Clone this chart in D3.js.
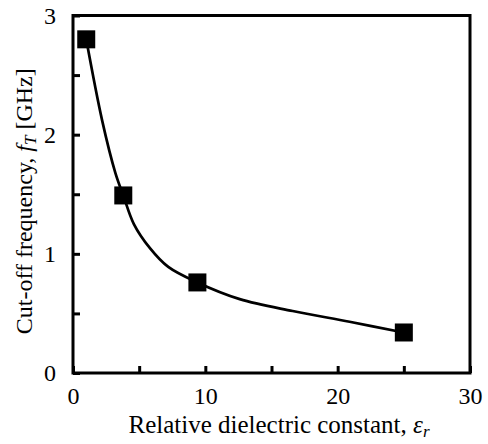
<!DOCTYPE html>
<html>
<head>
<meta charset="utf-8">
<script src="https://cdn.jsdelivr.net/npm/d3@7"></script>
<style>
  body { margin: 0; background: #fff; }
</style>
</head>
<body>
<script>
// measured points
var epsR = [1.0, 3.8, 9.4, 25];
var fT = [2.80, 1.49, 0.76, 0.34];

// fitted guide curve
var fitX = [1.0, 2.2, 3.2, 3.8, 4.6, 5.8, 7.2, 9.4, 12.6, 16.6, 20.9, 25];
var fitY = [2.80, 2.12, 1.68, 1.49, 1.25, 1.05, 0.89, 0.76, 0.62, 0.52, 0.43, 0.34];

var xTicks = [0, 5, 10, 15, 20, 25, 30];
var xLabels = [0, 10, 20, 30];
var yTicks = [0, 0.5, 1, 1.5, 2, 2.5, 3];
var yLabels = [0, 1, 2, 3];

var W = 488, H = 444;
var m = {left: 73, right: 18, top: 15.5, bottom: 71};
var serif = "'Liberation Serif'";

var svg = d3.select("body").append("svg")
  .attr("width", W)
  .attr("height", H)
  .style("font-family", serif);

var x = d3.scaleLinear().domain([0, 30]).range([m.left, W - m.right]);
var y = d3.scaleLinear().domain([0, 3]).range([H - m.bottom, m.top]);

// frame
svg.append("rect")
  .attr("x", x(0)).attr("y", y(3))
  .attr("width", x(30) - x(0)).attr("height", y(0) - y(3))
  .attr("fill", "none").attr("stroke", "#000").attr("stroke-width", 3);

// inward ticks
var xAxis = d3.axisBottom(x).tickValues(xTicks).tickSizeInner(-7).tickSizeOuter(0)
  .tickFormat(function(d) { return xLabels.indexOf(d) >= 0 ? d : ""; }).tickPadding(14);
var gx = svg.append("g").attr("transform", "translate(0," + y(0) + ")").call(xAxis);

var yAxis = d3.axisLeft(y).tickValues(yTicks).tickSizeInner(-7).tickSizeOuter(0)
  .tickFormat(function(d) { return yLabels.indexOf(d) >= 0 ? d : ""; }).tickPadding(17);
var gy = svg.append("g").attr("transform", "translate(" + x(0) + ",0)").call(yAxis);

[gx, gy].forEach(function(g) {
  g.attr("font-family", null).attr("font-size", null);
  g.select(".domain").remove();
  g.selectAll(".tick line").attr("stroke", "#000").attr("stroke-width", 3);
  g.selectAll(".tick text")
    .style("font-family", serif)
    .style("font-size", "24px")
    .style("fill", "#000");
});

// fit curve
var line = d3.line()
  .x(function(d) { return x(d[0]); })
  .y(function(d) { return y(d[1]); })
  .curve(d3.curveCatmullRom);

svg.append("path")
  .datum(d3.zip(fitX, fitY))
  .attr("d", line)
  .attr("fill", "none")
  .attr("stroke", "#000")
  .attr("stroke-width", 2.7);

// square markers
var s = 18;
svg.selectAll("rect.pt")
  .data(d3.zip(epsR, fT))
  .enter()
  .append("rect")
  .attr("class", "pt")
  .attr("x", function(d) { return x(d[0]) - s / 2; })
  .attr("y", function(d) { return y(d[1]) - s / 2; })
  .attr("width", s).attr("height", s)
  .attr("fill", "#000");

// axis titles
var xt = svg.append("text")
  .attr("x", 279)
  .attr("y", 433)
  .attr("text-anchor", "middle")
  .style("font-family", serif)
  .style("font-size", "25px");
xt.append("tspan").text("Relative dielectric constant, ");
xt.append("tspan").style("font-style", "italic").text("ε");
xt.append("tspan").style("font-style", "italic").attr("dy", 4).style("font-size", "17px").text("r");

var yt = svg.append("text")
  .attr("transform", "translate(32," + (y(1.5) + 7) + ") rotate(-90)")
  .attr("text-anchor", "middle")
  .style("font-family", serif)
  .style("font-size", "24px");
yt.append("tspan").text("Cut-off frequency, ");
yt.append("tspan").style("font-style", "italic").text("f");
yt.append("tspan").style("font-style", "italic").attr("dy", 4).style("font-size", "17px").text("T");
yt.append("tspan").attr("dy", -4).text(" [GHz]");
</script>
</body>
</html>
